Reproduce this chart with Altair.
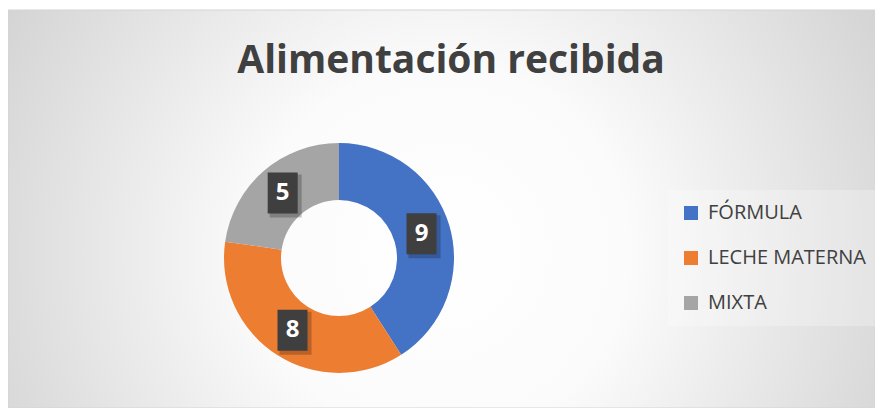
import altair as alt
import pandas as pd

# ---- data ----
categories = ["FÓRMULA", "LECHE MATERNA", "MIXTA"]
values = [9, 8, 5]
colors = ["#4472C4", "#ED7D31", "#A5A5A5"]
title_text = "Alimentación recibida"

df = pd.DataFrame({"cat": categories, "value": values, "ord": list(range(len(categories)))})
one = pd.DataFrame({"k": [0]})

# ---- layout constants (view coords) ----
W, H = 867, 400
CX, CY = 331, 250
R_OUT, R_IN = 115, 58
R_LAB = 86
BW, BH = 30, 41

gradient = {
    "gradient": "radial",
    "x1": 0.5, "y1": 0.55, "r1": 0,
    "x2": 0.5, "y2": 0.55, "r2": 0.72,
    "stops": [
        {"offset": 0, "color": "#ffffff"},
        {"offset": 0.3, "color": "#fbfbfb"},
        {"offset": 1, "color": "#c4c4c4"},
    ],
}

bg = alt.Chart(one).mark_rect(fill=gradient, stroke="#d4d4d4", strokeWidth=1).encode(
    x=alt.value(0), x2=alt.value(W), y=alt.value(2), y2=alt.value(H)
)

donut = alt.Chart(df).mark_arc(innerRadius=R_IN, outerRadius=R_OUT).encode(
    theta=alt.Theta("value:Q", stack=True),
    order=alt.Order("ord:Q"),
    color=alt.Color(
        "cat:N",
        scale=alt.Scale(domain=categories, range=colors),
        legend=alt.Legend(
            title=None, orient="none", legendX=660, legendY=182,
            symbolType="square", symbolSize=196, symbolStrokeWidth=0,
            labelFont="Open Sans", labelFontSize=20, labelColor="#404040",
            labelOffset=7, rowPadding=25, padding=13, labelLimit=300,
            fillColor="rgba(255,255,255,0.25)",
        ),
    ),
    x=alt.value(CX), y=alt.value(CY),
)

lab = (
    alt.Chart(df)
    .transform_window(cum="sum(value)", sort=[alt.SortField("ord")], frame=[None, 0])
    .transform_joinaggregate(total="sum(value)")
    .transform_calculate(
        ang="(datum.cum - datum.value/2)/datum.total*2*PI",
    )
    .transform_calculate(
        lx=f"{CX} + {R_LAB}*sin(datum.ang)",
        ly=f"{CY} - {R_LAB}*cos(datum.ang)",
    )
    .transform_calculate(
        bx1=f"datum.lx - {BW/2}", bx2=f"datum.lx + {BW/2}",
        by1=f"datum.ly - {BH/2}", by2=f"datum.ly + {BH/2}",
        sx1=f"datum.lx - {BW/2} + 2", sx2=f"datum.lx + {BW/2} + 4",
        sy1=f"datum.ly - {BH/2} + 2", sy2=f"datum.ly + {BH/2} + 4",
    )
)

shadow = lab.mark_rect(color="#000000", opacity=0.22).encode(
    x=alt.X("sx1:Q", scale=None), x2="sx2:Q",
    y=alt.Y("sy1:Q", scale=None), y2="sy2:Q",
)
boxes = lab.mark_rect(color="#3f3f3f").encode(
    x=alt.X("bx1:Q", scale=None), x2="bx2:Q",
    y=alt.Y("by1:Q", scale=None), y2="by2:Q",
)
labels = lab.mark_text(
    font="Open Sans", fontSize=24, fontWeight="bold", color="#ffffff",
    align="center", baseline="middle",
).encode(
    x=alt.X("lx:Q", scale=None), y=alt.Y("ly:Q", scale=None), text="value:Q"
)

title = alt.Chart(one).mark_text(
    text=title_text, font="Open Sans", fontSize=39, fontWeight="bold",
    color="#404040", align="center", baseline="alphabetic",
).encode(x=alt.value(443), y=alt.value(65))

chart = alt.layer(bg, donut, shadow, boxes, labels, title).properties(
    width=W, height=H, padding=0, autosize="none", background="white"
).configure_view(stroke=None)

chart.save("out.html", embed_options={"renderer": "svg", "actions": False})
